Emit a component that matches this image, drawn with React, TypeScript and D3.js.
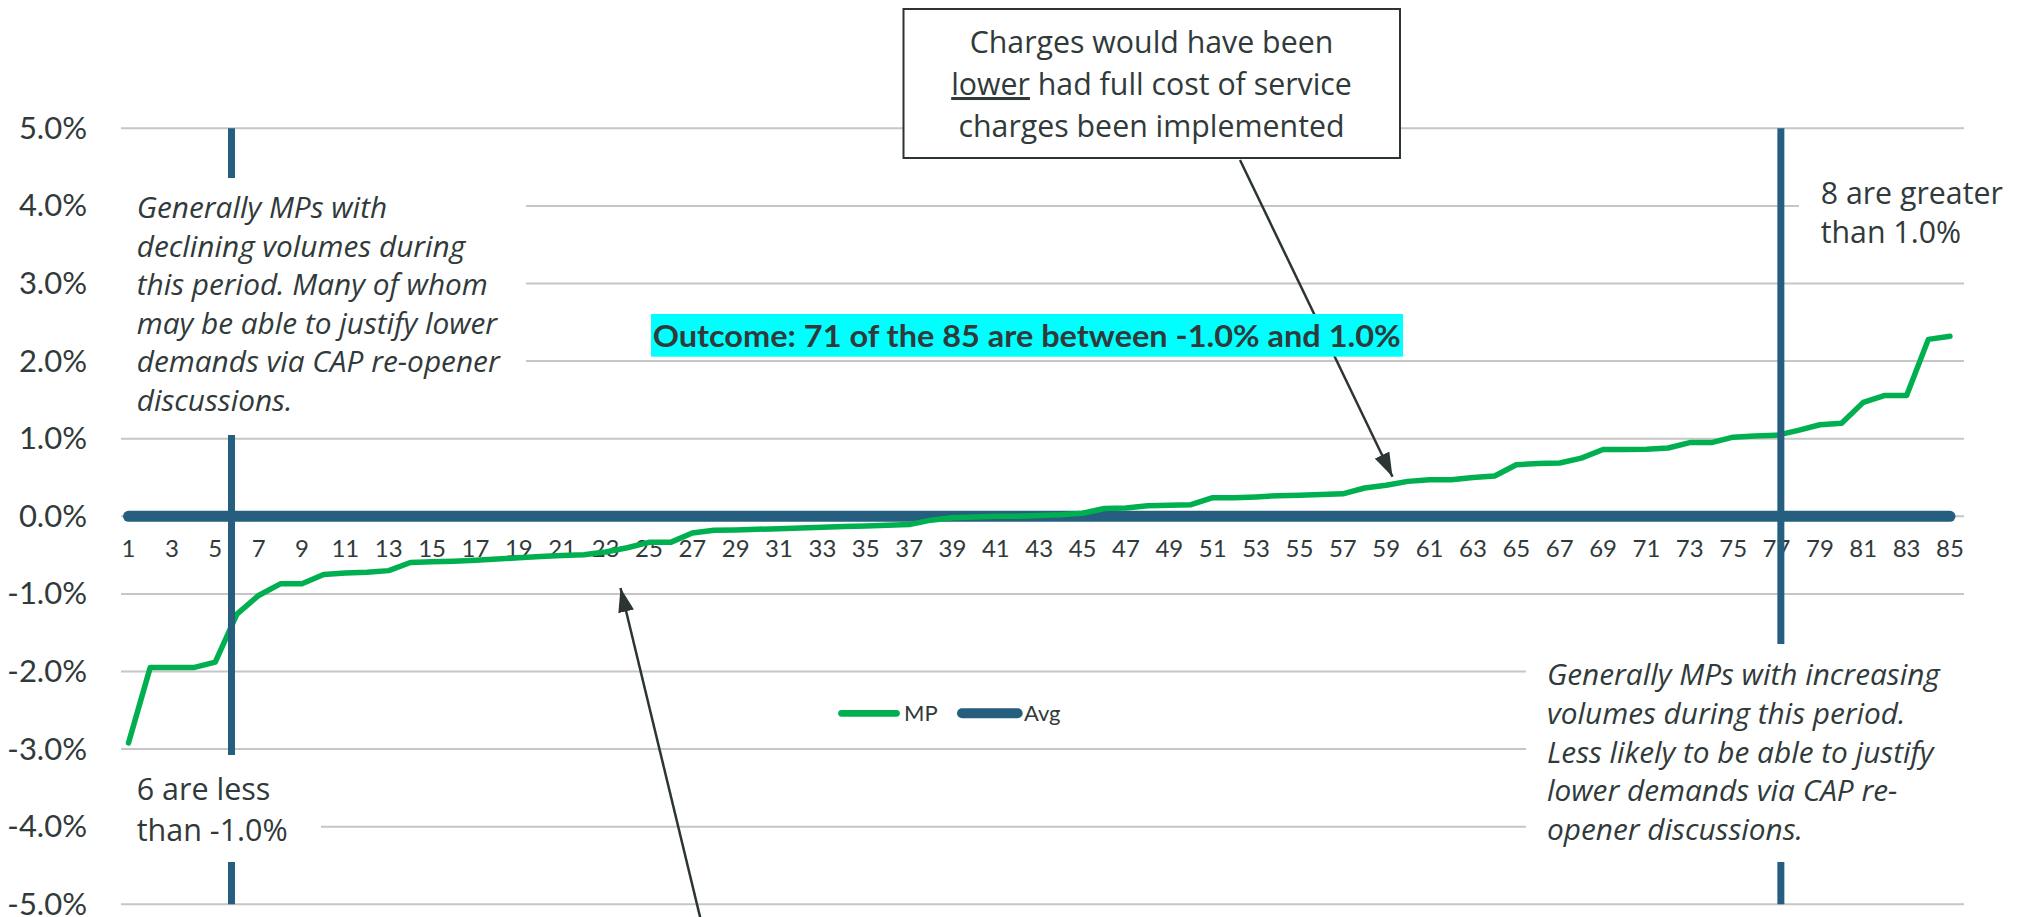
import React, { useEffect, useRef } from 'react';
import * as d3 from 'd3';

// MP values (%) sorted ascending, one per market participant
const categories = d3.range(1, 86);
const mpValues = [
  -2.92, -1.95, -1.95, -1.95, -1.88, -1.26, -1.02, -0.87, -0.87, -0.75,
  -0.73, -0.72, -0.7, -0.595, -0.585, -0.578, -0.565, -0.55, -0.535, -0.517,
  -0.504, -0.496, -0.46, -0.405, -0.336, -0.336, -0.215, -0.18, -0.176, -0.168,
  -0.159, -0.15, -0.142, -0.133, -0.125, -0.116, -0.107, -0.05, -0.02, -0.01,
  0.0, 0.0, 0.01, 0.02, 0.04, 0.1, 0.107, 0.137, 0.142, 0.15,
  0.24, 0.24, 0.25, 0.266, 0.27, 0.28, 0.29, 0.365, 0.4, 0.45,
  0.47, 0.47, 0.5, 0.52, 0.665, 0.68, 0.687, 0.75, 0.86, 0.86,
  0.863, 0.88, 0.95, 0.95, 1.02, 1.034, 1.043, 1.107, 1.18, 1.2,
  1.468, 1.558, 1.558, 2.28, 2.32
];
const avgValue = 0.0;
const yTicks = [5, 4, 3, 2, 1, 0, -1, -2, -3, -4, -5];
const xTickLabels = categories.filter(c => c % 2 === 1);
// vertical divider lines, in category units
const dividerCategories = [5.75, 77.2];

const leftNote = [
  'Generally MPs with',
  'declining volumes during',
  'this period. Many of whom',
  'may be able to justify lower',
  'demands via CAP re-opener',
  'discussions.'
];
const rightNote = [
  'Generally MPs with increasing',
  'volumes during this period.',
  'Less likely to be able to justify',
  'lower demands via CAP re-',
  'opener discussions.'
];
const lessNote = ['6 are less', 'than -1.0%'];
const greaterNote = ['8 are greater', 'than 1.0%'];
const outcomeText = 'Outcome: 71 of the 85 are between -1.0% and 1.0%';

const WIDTH = 2025;
const HEIGHT = 917;
const FONT = 'Lato, "Open Sans", sans-serif';
const NOTE_FONT = '"Open Sans", Lato, sans-serif';
const TEXT = '#313a3a';
const BLUE = '#255e7e';
const GREEN = '#00b050';
const GRID = '#c6c6c6';

export default function App() {
  const svgRef = useRef<SVGSVGElement>(null);

  useEffect(() => {
    if (!svgRef.current) return;
    const svg = d3.select(svgRef.current);
    svg.selectAll('*').remove();

    const x = d3.scaleLinear().domain([1, 85]).range([128.5, 1950]);
    const y = d3.scaleLinear().domain([-5, 5]).range([904.3, 128.3]);
    const gridLeft = 121;
    const gridRight = 1964;

    // arrow marker
    svg.append('defs')
      .append('marker')
      .attr('id', 'arrow')
      .attr('markerUnits', 'userSpaceOnUse')
      .attr('viewBox', '0 0 24 16')
      .attr('refX', 24)
      .attr('refY', 8)
      .attr('markerWidth', 24)
      .attr('markerHeight', 16)
      .attr('orient', 'auto')
      .append('path')
      .attr('d', 'M0,0 L24,8 L0,16 Z')
      .attr('fill', '#2d3434');

    // gridlines
    svg.append('g')
      .selectAll('line')
      .data(yTicks)
      .join('line')
      .attr('x1', gridLeft)
      .attr('x2', gridRight)
      .attr('y1', d => y(d))
      .attr('y2', d => y(d))
      .attr('stroke', GRID)
      .attr('stroke-width', 2);

    // y axis labels
    svg.append('g')
      .selectAll('text')
      .data(yTicks)
      .join('text')
      .attr('x', 87)
      .attr('y', d => y(d) + 10.5)
      .attr('text-anchor', 'end')
      .style('font-family', FONT)
      .style('font-size', '31px')
      .style('fill', TEXT)
      .text(d => `${d.toFixed(1)}%`);

    // x axis labels
    svg.append('g')
      .selectAll('text')
      .data(xTickLabels)
      .join('text')
      .attr('x', d => x(d))
      .attr('y', 557)
      .attr('text-anchor', 'middle')
      .style('font-family', FONT)
      .style('font-size', '24px')
      .style('fill', TEXT)
      .text(d => d);

    // Avg series
    svg.append('line')
      .attr('x1', x(categories[0]))
      .attr('x2', x(categories[categories.length - 1]))
      .attr('y1', y(avgValue))
      .attr('y2', y(avgValue))
      .attr('stroke', BLUE)
      .attr('stroke-width', 11)
      .attr('stroke-linecap', 'round');

    // MP series
    const line = d3.line<number>()
      .x((_, i) => x(categories[i]))
      .y(d => y(d));
    svg.append('path')
      .datum(mpValues)
      .attr('d', line)
      .attr('fill', 'none')
      .attr('stroke', GREEN)
      .attr('stroke-width', 5.5)
      .attr('stroke-linejoin', 'round')
      .attr('stroke-linecap', 'round');

    // vertical dividers
    svg.append('g')
      .selectAll('line')
      .data(dividerCategories)
      .join('line')
      .attr('x1', d => x(d))
      .attr('x2', d => x(d))
      .attr('y1', y(5))
      .attr('y2', y(-5))
      .attr('stroke', BLUE)
      .attr('stroke-width', 7);

    // white note backgrounds
    const blanks = [
      [108, 178, 418, 257],
      [108, 755, 213, 107],
      [1526, 644, 499, 218],
      [1799, 150, 226, 115]
    ];
    svg.append('g')
      .selectAll('rect')
      .data(blanks)
      .join('rect')
      .attr('x', d => d[0])
      .attr('y', d => d[1])
      .attr('width', d => d[2])
      .attr('height', d => d[3])
      .attr('fill', '#fff');

    const addLines = (lines: string[], x0: number, y0: number, step: number, size: number, italic: boolean) => {
      const t = svg.append('text')
        .style('font-family', NOTE_FONT)
        .style('font-size', `${size}px`)
        .style('font-style', italic ? 'italic' : 'normal')
        .style('fill', TEXT);
      lines.forEach((l, i) => {
        t.append('tspan').attr('x', x0).attr('y', y0 + i * step).text(l);
      });
    };

    addLines(leftNote, 136.7, 218.3, 38.5, 29.8, true);
    addLines(rightNote, 1547, 685, 38.8, 29.8, true);
    addLines(lessNote, 136.7, 800, 40.7, 30.5, false);
    addLines(greaterNote, 1820.7, 204, 39.3, 30.3, false);

    // arrows
    svg.append('line')
      .attr('x1', 1240).attr('y1', 160)
      .attr('x2', 1392.5).attr('y2', 476.7)
      .attr('stroke', '#2d3434')
      .attr('stroke-width', 2.5)
      .attr('marker-end', 'url(#arrow)');
    svg.append('line')
      .attr('x1', 702).attr('y1', 925)
      .attr('x2', 620.5).attr('y2', 588)
      .attr('stroke', '#2d3434')
      .attr('stroke-width', 2.5)
      .attr('marker-end', 'url(#arrow)');

    // callout box
    svg.append('rect')
      .attr('x', 903.5)
      .attr('y', 9)
      .attr('width', 496.5)
      .attr('height', 149)
      .attr('fill', '#fff')
      .attr('stroke', '#2d3434')
      .attr('stroke-width', 2);
    const box = svg.append('text')
      .attr('text-anchor', 'middle')
      .style('font-family', NOTE_FONT)
      .style('font-size', '30.3px')
      .style('fill', TEXT);
    box.append('tspan').attr('x', 1151.5).attr('y', 53.3).text('Charges would have been');
    const l2 = box.append('tspan').attr('x', 1151.5).attr('y', 95);
    l2.append('tspan').style('text-decoration', 'underline').text('lower');
    l2.append('tspan').text(' had full cost of service');
    box.append('tspan').attr('x', 1151.5).attr('y', 136.7).text('charges been implemented');

    // outcome highlight
    svg.append('rect')
      .attr('x', 651)
      .attr('y', 314)
      .attr('width', 752)
      .attr('height', 42.7)
      .attr('fill', '#00ffff');
    svg.append('text')
      .attr('x', 652.7)
      .attr('y', 346.7)
      .attr('textLength', 748)
      .attr('lengthAdjust', 'spacingAndGlyphs')
      .style('font-family', FONT)
      .style('font-size', '30px')
      .style('font-weight', 'bold')
      .style('fill', TEXT)
      .text(outcomeText);

    // legend
    const legend = [
      { name: 'MP', color: GREEN, width: 6.7, x1: 841.5, x2: 896.5, tx: 904 },
      { name: 'Avg', color: BLUE, width: 10, x1: 962, x2: 1017.7, tx: 1024 }
    ];
    const lg = svg.append('g').selectAll('g').data(legend).join('g');
    lg.append('line')
      .attr('x1', d => d.x1)
      .attr('x2', d => d.x2)
      .attr('y1', 713.3)
      .attr('y2', 713.3)
      .attr('stroke', d => d.color)
      .attr('stroke-width', d => d.width)
      .attr('stroke-linecap', 'round');
    lg.append('text')
      .attr('x', d => d.tx)
      .attr('y', 720.7)
      .style('font-family', FONT)
      .style('font-size', '22px')
      .style('fill', TEXT)
      .text(d => d.name);
  }, []);

  return (
    <svg
      ref={svgRef}
      width={WIDTH}
      height={HEIGHT}
      style={{ position: 'absolute', left: 0, top: 0, background: '#fff' }}
    />
  );
}
